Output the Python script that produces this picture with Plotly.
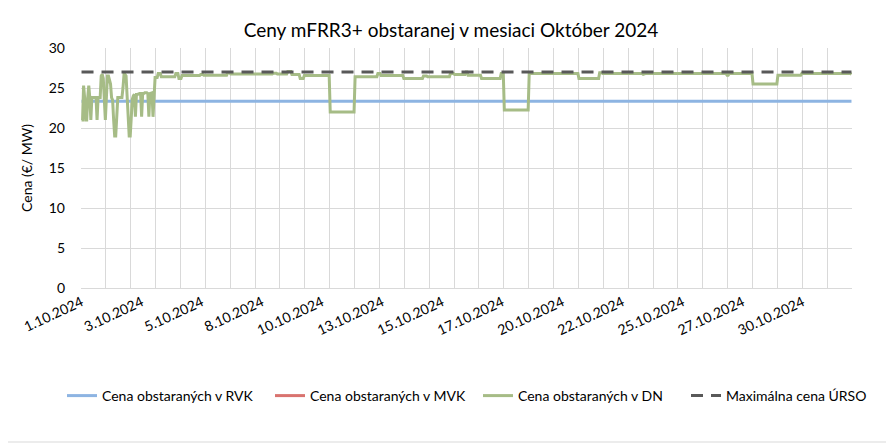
import numpy as np
import plotly.graph_objects as go

# hodinove data, oktober 2024 (31 dni x 24 h)
HOURS_IN_MONTH = 744

# prvé 3 dni - cena v DN po hodinach
dn_first_hours = [
    21.0, 21.0, 25.3, 23.8, 21.0, 21.0, 23.8, 25.3, 23.8, 21.0, 23.8, 23.8,
    23.8, 23.8, 23.8, 21.0, 23.8, 23.8, 23.8, 26.5, 26.7, 26.2, 24.0, 21.0,
    23.8, 26.5, 26.5, 26.0, 25.5, 23.8, 23.5, 21.0, 19.0, 19.0, 21.0, 23.8,
    23.8, 23.8, 23.8, 23.8, 25.0, 26.7, 26.7, 26.5, 24.0, 21.0, 19.0, 19.0,
    21.0, 23.6, 24.0, 24.2, 21.4, 24.2, 24.2, 24.3, 24.3, 24.3, 21.4, 24.3,
    24.3, 24.4, 24.4, 24.4, 24.3, 21.4, 24.3, 24.4, 24.4, 21.4, 24.3, 26.3,
]

# zvysok mesiaca - hodina od ktorej plati cena v DN
dn_change_hours = [72, 74, 77, 91, 94, 97, 115, 118, 141, 144, 185, 189,
                   199, 203, 211, 215, 240, 264, 286, 289, 311, 330, 334, 356,
                   360, 371, 373, 386, 405, 408, 432, 480, 500, 503, 542, 543,
                   623, 625, 648, 672, 695, 743]
dn_change_values = [26.3, 26.8, 26.4, 26.8, 26.2, 26.55, 26.7, 26.6, 26.9, 26.75, 26.85, 26.75,
                    27.05, 26.7, 26.2, 26.55, 22.0, 26.4, 26.8, 26.55, 26.2, 26.5, 26.4, 26.8,
                    26.7, 27.0, 26.6, 26.2, 26.8, 22.25, 26.8, 26.2, 26.9, 26.8, 26.7, 26.8,
                    26.6, 26.8, 25.5, 26.6, 26.8, 26.7]

rvk_price = 23.35
max_price_urso = 27.0

x_labels = ["1.10.2024", "3.10.2024", "5.10.2024", "8.10.2024", "10.10.2024",
            "13.10.2024", "15.10.2024", "17.10.2024", "20.10.2024", "22.10.2024",
            "25.10.2024", "27.10.2024", "30.10.2024"]
label_step = 58

hours = np.arange(HOURS_IN_MONTH)

dn = list(dn_first_hours)
for i, start in enumerate(dn_change_hours):
    end = dn_change_hours[i + 1] if i + 1 < len(dn_change_hours) else HOURS_IN_MONTH
    dn += [dn_change_values[i]] * (end - start)

font = "Lato"

fig = go.Figure()
fig.add_trace(go.Scatter(x=hours, y=[rvk_price] * HOURS_IN_MONTH, mode="lines",
                         name="Cena obstaraných v RVK", line=dict(color="#8DB4E2", width=3)))
fig.add_trace(go.Scatter(x=hours, y=[None] * HOURS_IN_MONTH, mode="lines",
                         name="Cena obstaraných v MVK", line=dict(color="#D9736F", width=3)))
fig.add_trace(go.Scatter(x=hours, y=dn, mode="lines",
                         name="Cena obstaraných v DN", line=dict(color="#A6BC86", width=3)))
fig.add_trace(go.Scatter(x=hours, y=[max_price_urso] * HOURS_IN_MONTH, mode="lines",
                         name="Maximálna cena ÚRSO",
                         line=dict(color="#595959", width=3, dash="12px,8px")))

# stranka ma 8px okraj, preto 886x439
fig.update_layout(
    width=886, height=439,
    margin=dict(l=73, r=42, t=40, b=159),
    paper_bgcolor="white", plot_bgcolor="white",
    font=dict(family=font, size=14, color="#000000"),
    title=dict(text="Ceny mFRR3+ obstaranej v mesiaci Október 2024",
               x=0.5, xanchor="center", y=0.95, yanchor="middle",
               font=dict(size=19, family=font, color="#000000")),
    showlegend=True,
    legend=dict(orientation="h", x=-0.008, xanchor="left", y=-0.45, yanchor="middle",
                entrywidth=163, entrywidthmode="pixels",
                font=dict(size=14, family=font, color="#000000"),
                bgcolor="rgba(0,0,0,0)"),
)

fig.update_xaxes(
    range=[-0.5, HOURS_IN_MONTH - 0.5],
    tickmode="array",
    tickvals=[i * label_step for i in range(len(x_labels))],
    ticktext=x_labels,
    tickangle=-25,
    showgrid=False,
    showline=True, linecolor="#D9D9D9", linewidth=1,
    ticks="",
    zeroline=False,
    minor=dict(tick0=-0.5, dtick=24, showgrid=True, gridcolor="#D9D9D9", gridwidth=1),
    tickfont=dict(size=14, color="#000000"),
)
fig.update_yaxes(
    range=[0, 30], dtick=5,
    showgrid=True, gridcolor="#D9D9D9", gridwidth=1,
    zeroline=False, showline=False,
    ticklabelstandoff=15,
    title=dict(text="Cena (€/ MW)", standoff=12, font=dict(size=14, color="#000000")),
    tickfont=dict(size=14, color="#000000"),
)

# okraj grafu (vpravo a dole)
fig.add_shape(type="line", xref="paper", yref="paper",
              x0=809 / 771, x1=809 / 771, y0=-154 / 240, y1=280 / 240,
              line=dict(color="#D9D9D9", width=1), layer="below")
fig.add_shape(type="line", xref="paper", yref="paper",
              x0=-73 / 771, x1=809 / 771, y0=-154 / 240, y1=-154 / 240,
              line=dict(color="#D9D9D9", width=1), layer="below")

fig.write_html("out.html")
